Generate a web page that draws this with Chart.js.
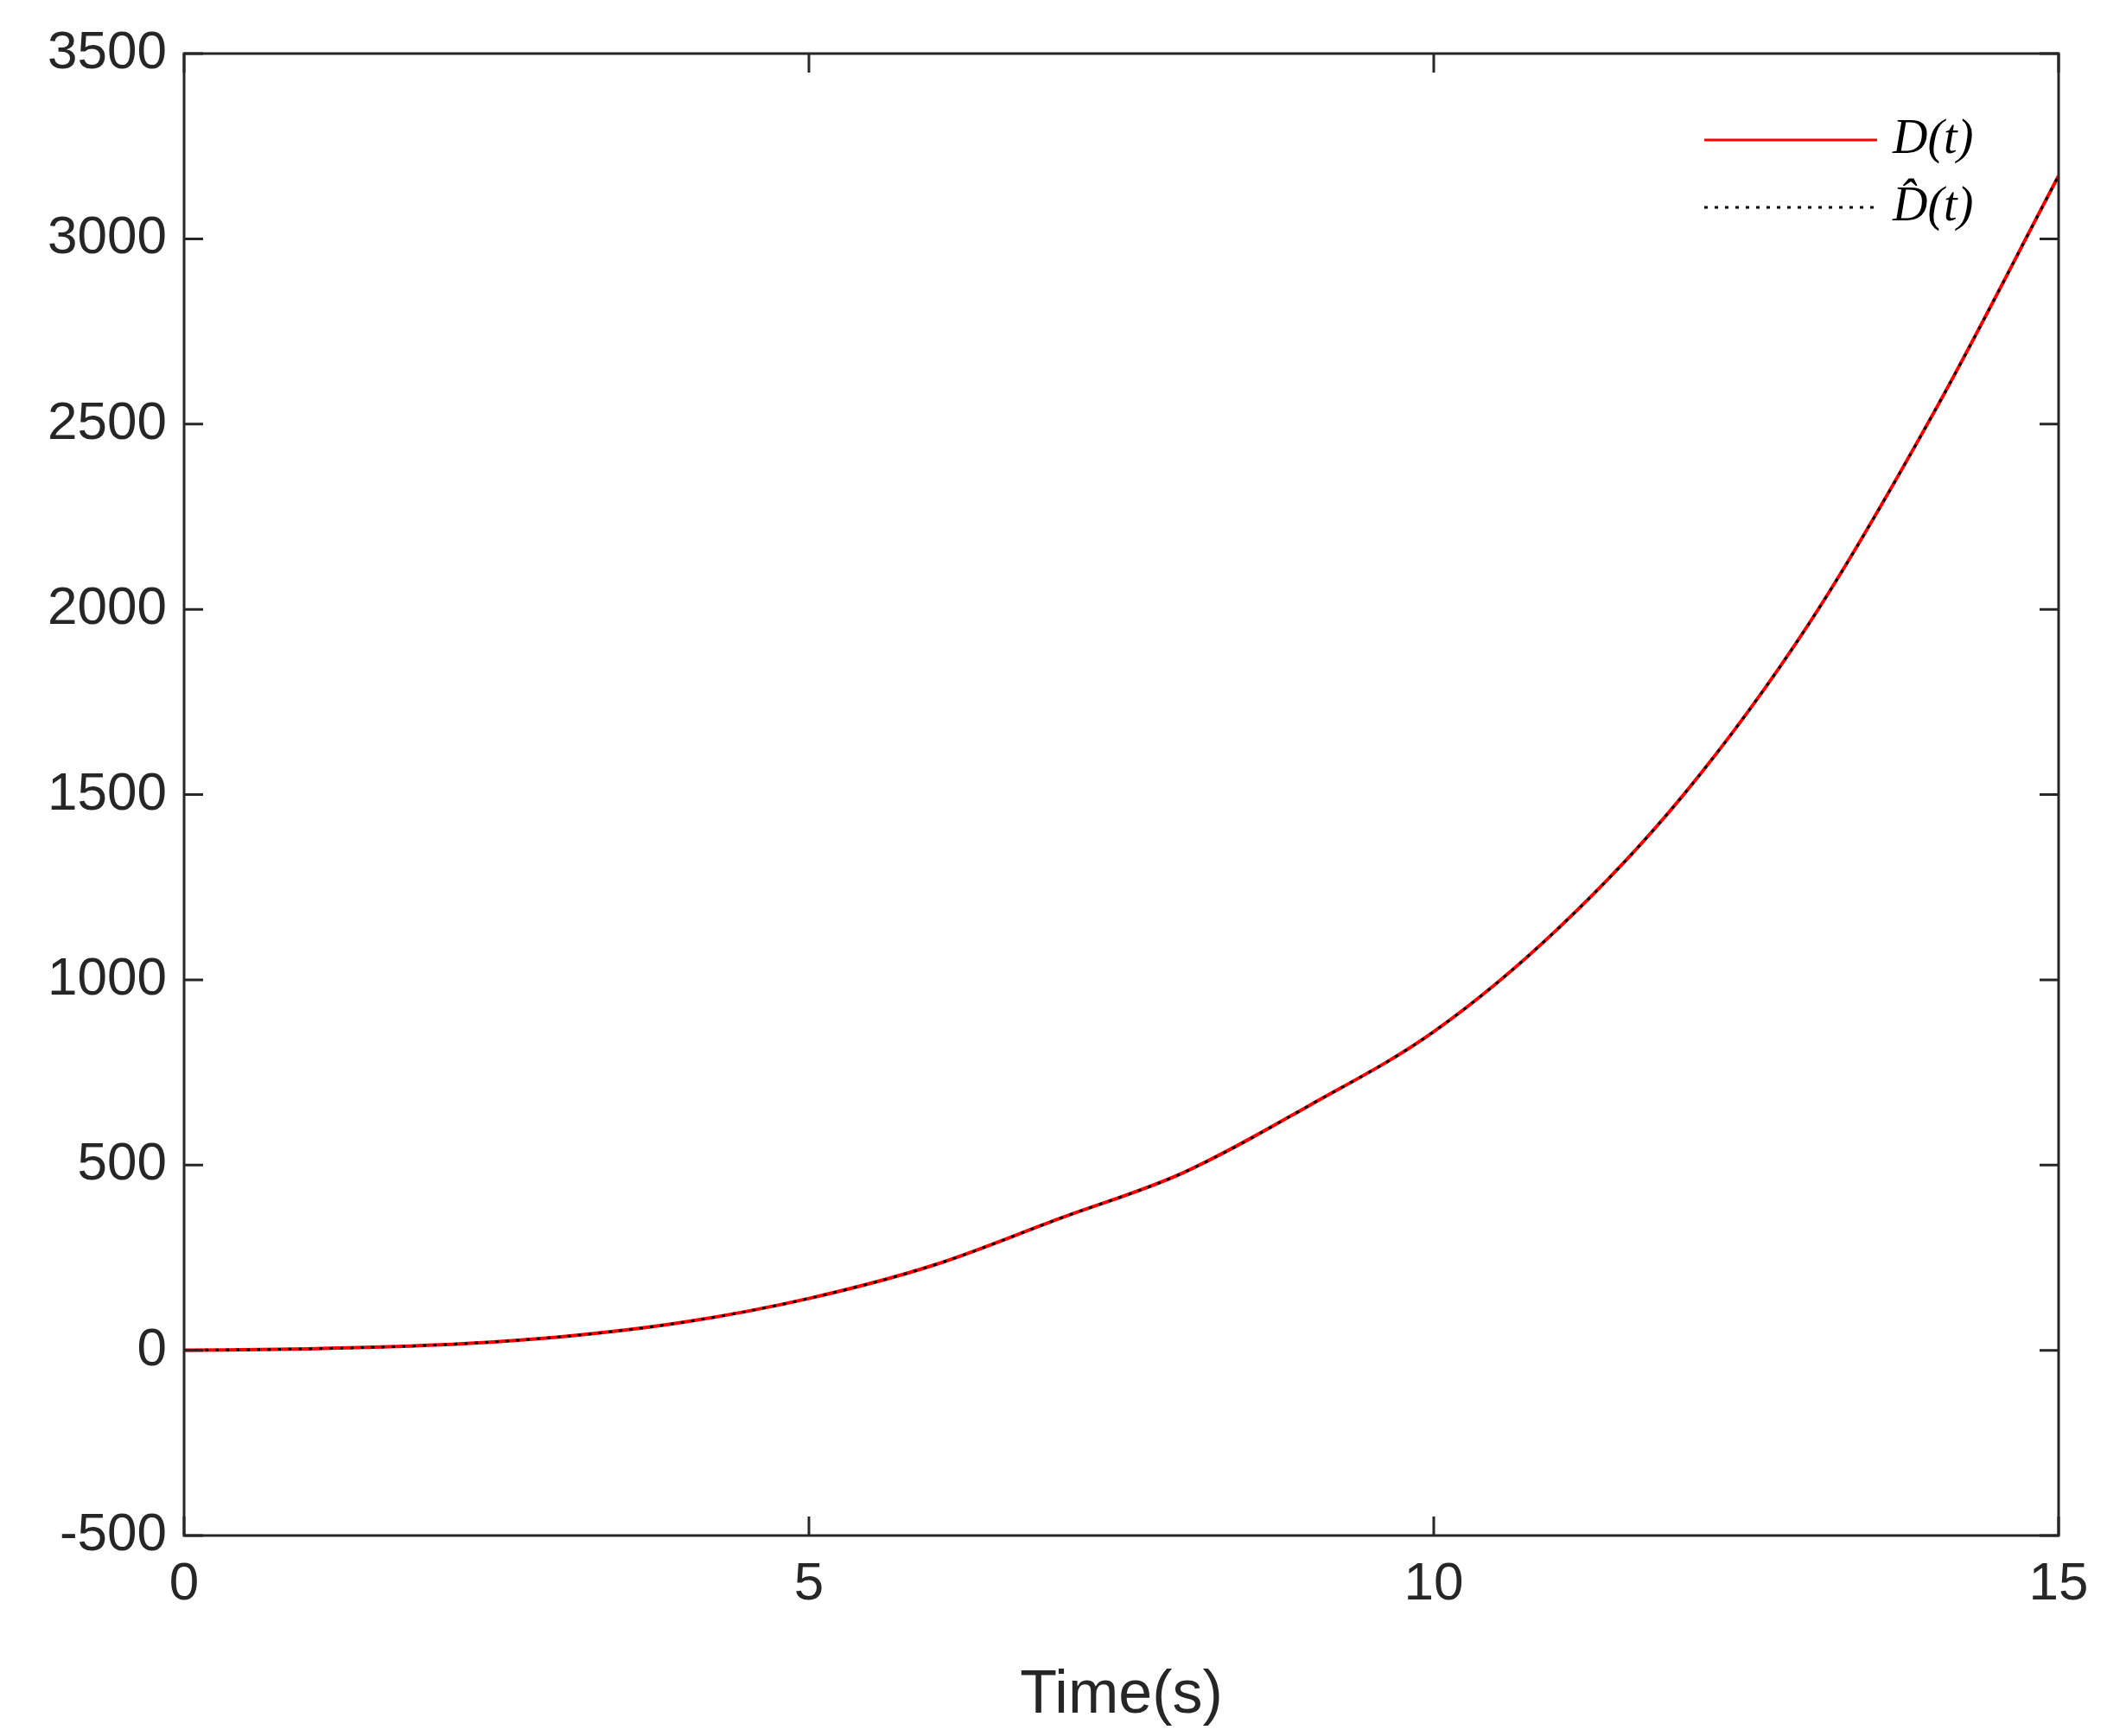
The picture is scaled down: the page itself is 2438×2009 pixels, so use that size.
<!DOCTYPE html>
<html>
<head>
<meta charset="utf-8">
<script src="https://cdn.jsdelivr.net/npm/chart.js@4"></script>
<style>
html,body{margin:0;padding:0;background:#fff;}
#wrap{width:2438px;height:2009px;}
</style>
</head>
<body>
<div id="wrap"><canvas id="myChart"></canvas></div>
<script>
Chart.defaults.font.family = "'Liberation Sans', Arial, sans-serif";
Chart.defaults.color = '#262626';

var times = [0, 1, 2, 3, 4, 5, 6, 7, 8, 9, 10, 11, 12, 13, 14, 15];
var dValues = [0, 4, 14, 36, 76, 140, 230, 355, 480, 660, 860, 1140, 1500, 1960, 2530, 3170];
var dHatValues = [0, 4, 14, 36, 76, 140, 230, 355, 480, 660, 860, 1140, 1500, 1960, 2530, 3170];
var seriesLabels = ['D(t)', 'D\u0302(t)'];

function pts(vals) {
  return times.map(function (t, i) { return {x: t, y: vals[i]}; });
}

// box + mirrored inward ticks + legend, MATLAB style
var boxPlugin = {
  id: 'box',
  afterDraw: function (chart) {
    var c = chart.ctx, a = chart.chartArea;
    var xs = chart.scales.x, ys = chart.scales.y;
    c.save();
    c.strokeStyle = '#262626';
    c.lineWidth = 3;
    c.strokeRect(a.left, a.top, a.right - a.left, a.bottom - a.top);
    var tl = 22;
    xs.ticks.forEach(function (t) {
      var p = xs.getPixelForValue(t.value);
      c.beginPath(); c.moveTo(p, a.bottom); c.lineTo(p, a.bottom - tl);
      c.moveTo(p, a.top); c.lineTo(p, a.top + tl); c.stroke();
    });
    ys.ticks.forEach(function (t) {
      var p = ys.getPixelForValue(t.value);
      c.beginPath(); c.moveTo(a.left, p); c.lineTo(a.left + tl, p);
      c.moveTo(a.right, p); c.lineTo(a.right - tl, p); c.stroke();
    });
    // legend
    var lx0 = a.right - 410, lx1 = a.right - 210, ly = a.top + 100;
    c.lineWidth = 3;
    c.strokeStyle = '#ff0000';
    c.setLineDash([]);
    c.beginPath(); c.moveTo(lx0, ly); c.lineTo(lx1, ly); c.stroke();
    c.strokeStyle = '#000000';
    c.setLineDash([4, 8]);
    c.beginPath(); c.moveTo(lx0, ly + 78); c.lineTo(lx1, ly + 78); c.stroke();
    c.setLineDash([]);
    c.fillStyle = '#000';
    c.font = "italic 56px 'Liberation Serif', 'DejaVu Serif', serif";
    c.textBaseline = 'middle';
    c.fillText(seriesLabels[0], lx1 + 18, ly);
    c.fillText(seriesLabels[1], lx1 + 18, ly + 78);
    c.restore();
  }
};

new Chart(document.getElementById('myChart'), {
  type: 'line',
  data: {
    datasets: [{
      label: seriesLabels[0],
      data: pts(dValues),
      borderColor: '#ff0000',
      borderWidth: 4,
      pointRadius: 0,
      order: 1,
      cubicInterpolationMode: 'monotone'
    }, {
      label: seriesLabels[1],
      data: pts(dHatValues),
      borderColor: '#000000',
      borderWidth: 3,
      borderDash: [4, 8],
      pointRadius: 0,
      order: 0,
      cubicInterpolationMode: 'monotone'
    }]
  },
  options: {
    responsive: true,
    maintainAspectRatio: false,
    animation: false,
    layout: {padding: {left: 0, right: 56, top: 62, bottom: 0}},
    plugins: {legend: {display: false}, tooltip: {enabled: false}},
    scales: {
      x: {
        type: 'linear', min: 0, max: 15,
        ticks: {stepSize: 5, font: {size: 62}, padding: 12},
        grid: {display: false},
        border: {display: false},
        title: {display: true, text: 'Time(s)', font: {size: 70}, padding: {top: 0}},
        afterFit: function (s) { s.height = 232; }
      },
      y: {
        min: -500, max: 3500,
        ticks: {stepSize: 500, font: {size: 62}, padding: 12,
          callback: function (v) { return String(v); }},
        grid: {display: false},
        border: {display: false},
        afterFit: function (s) { s.width = 213; }
      }
    }
  },
  plugins: [boxPlugin]
});
</script>
</body>
</html>
